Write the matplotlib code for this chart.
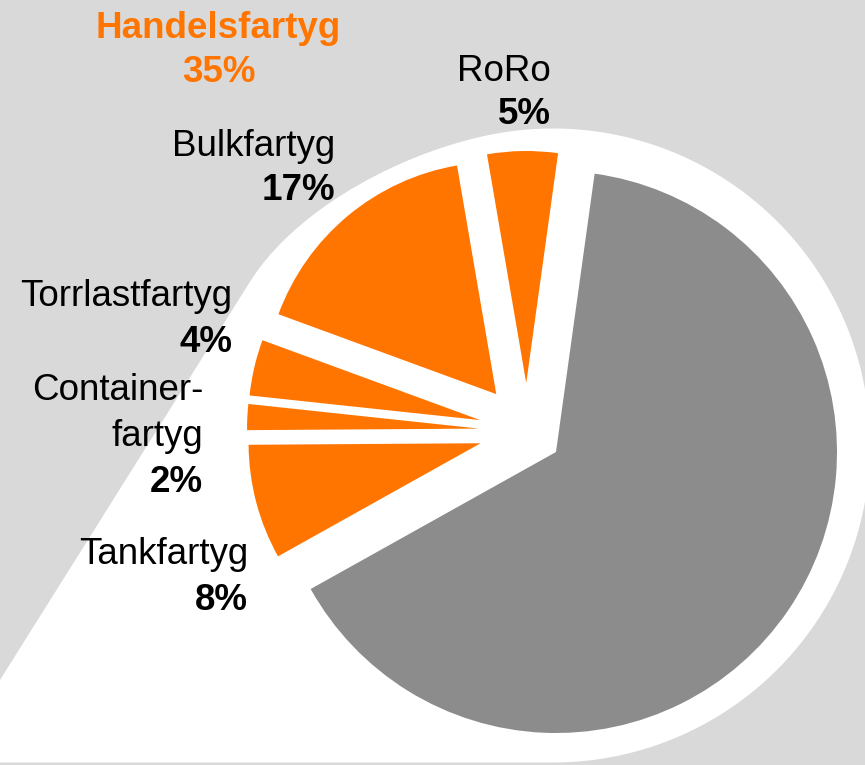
import matplotlib.pyplot as plt
import numpy as np
from matplotlib.patches import Polygon

# ship type shares (%), counter-clockwise from the top
categories = ["RoRo", "Bulkfartyg", "Torrlastfartyg", "Container-\nfartyg", "Tankfartyg", "Övriga fartyg"]
shares = [4.9, 16.7, 3.9, 1.8, 8.0, 64.7]
group_name = "Handelsfartyg"
n_group = 5  # first five slices belong to Handelsfartyg

ORANGE = "#FF7500"
GREY = "#8C8C8C"
BG = "#D9D9D9"
H = 765


def Y(y):
    # pixel row -> data y
    return H - y


def main():
    plt.rcParams["font.family"] = ["Liberation Sans", "DejaVu Sans"]
    fig = plt.figure(figsize=(8.65, 7.65), dpi=100, facecolor=BG)
    ax = fig.add_axes([0, 0, 1, 1])
    ax.set_facecolor(BG)

    # white backdrop: circle joined to a wedge running off the lower left
    cx, cy, r = 553, 445.5, 317
    th = np.radians(np.linspace(-90, 100, 200))
    arc = np.column_stack([cx + r * np.cos(th), cy - r * np.sin(th)])
    p0 = arc[-1]
    p3 = np.array([250.0, 680 - 1.593 * 250])
    k = 90
    p1 = p0 + k * np.array([-np.sin(th[-1]), -np.cos(th[-1])])
    p2 = p3 + k * np.array([0.532, -0.847])
    t = np.linspace(0, 1, 60)[:, None]
    bez = (1 - t) ** 3 * p0 + 3 * (1 - t) ** 2 * t * p1 + 3 * (1 - t) * t ** 2 * p2 + t ** 3 * p3
    corner = np.array([[(680 - 762.5) / 1.593, 762.5]])
    outline = np.vstack([arc, bez, corner])
    outline[:, 1] = Y(outline[:, 1])
    ax.add_patch(Polygon(outline, closed=True, facecolor="white", edgecolor="none", zorder=0))

    colors = [ORANGE] * n_group + [GREY]

    # large pie: only the grey slice is kept
    wedges, _ = ax.pie(shares, startangle=82.1, counterclock=True, center=(556, Y(452)),
                       radius=281, colors=colors, wedgeprops=dict(linewidth=0))
    for w in wedges[:n_group]:
        w.set_visible(False)

    # smaller exploded pie: the orange slices (explode is in data units here)
    explode = [48] * n_group + [0]
    wedges, _ = ax.pie(shares, startangle=82.1, counterclock=True, center=(527, Y(431)),
                       radius=232, explode=explode, colors=colors, wedgeprops=dict(linewidth=0))
    wedges[-1].set_visible(False)

    fs = 26.5
    step = 46
    # (right edge x, first name baseline, pct baseline) in pixels
    label_pos = [
        (551, 80.5, 124),
        (335, 155.5, 200),
        (232, 306, 352),
        (203, 400, 492),
        (248, 564.5, 610),
    ]
    for name, val, (x, yb, yp) in zip(categories[:n_group], shares[:n_group], label_pos):
        for i, line in enumerate(name.split("\n")):
            ax.text(x, Y(yb + i * step), line, ha="right", va="baseline", fontsize=fs, color="black")
        ax.text(x, Y(yp), f"{round(val)}%", ha="right", va="baseline", fontsize=fs,
                fontweight="bold", color="black")

    total = sum(shares[:n_group])
    ax.text(218.5, Y(38), group_name, ha="center", va="baseline", fontsize=fs,
            fontweight="bold", color=ORANGE)
    ax.text(218.5, Y(82), f"{round(total)}%", ha="center", va="baseline", fontsize=fs,
            fontweight="bold", color=ORANGE)

    ax.set_xlim(0, 865)
    ax.set_ylim(0, H)
    ax.set_aspect("equal")
    ax.axis("off")
    fig.savefig("out.png", dpi=100, facecolor=BG)


if __name__ == "__main__":
    main()
